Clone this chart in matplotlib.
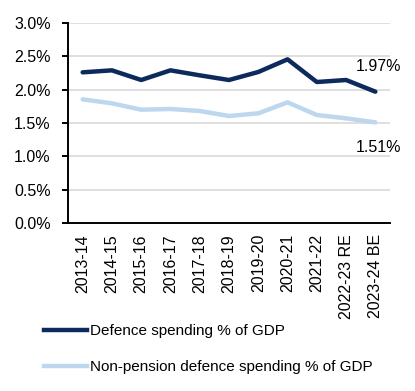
import matplotlib
matplotlib.use("Agg")
import matplotlib.pyplot as plt
from matplotlib.lines import Line2D

plt.rcParams['font.family'] = ['Liberation Sans', 'DejaVu Sans']

categories = ["2013-14", "2014-15", "2015-16", "2016-17", "2017-18", "2018-19",
              "2019-20", "2020-21", "2021-22", "2022-23 RE", "2023-24 BE"]
defence = [2.26, 2.29, 2.145, 2.29, 2.215, 2.145, 2.265, 2.455, 2.115, 2.145, 1.97]
non_pension = [1.855, 1.795, 1.70, 1.71, 1.68, 1.605, 1.645, 1.81, 1.62, 1.57, 1.51]
yticks = [0.0, 0.5, 1.0, 1.5, 2.0, 2.5, 3.0]

dark = "#0C2A5C"
light = "#BDD7EE"

fig = plt.figure(figsize=(4.15, 3.91), dpi=100)
ax = fig.add_axes([68/415, 1-223/391, (390-68)/415, 200/391])
x = list(range(len(categories)))
ax.plot(x, non_pension, color=light, lw=3.2, solid_capstyle='round', zorder=3)
ax.plot(x, defence, color=dark, lw=3.2, solid_capstyle='round', zorder=4)
ax.set_xlim(-0.5, len(categories)-0.5)
ax.set_ylim(0, 3.0)
ax.set_yticks(yticks)
ax.set_yticklabels([f"{v:.1f}%" for v in yticks], fontsize=11.5)
ax.set_xticks(x)
ax.set_xticklabels(categories, rotation=90, fontsize=11.5)
ax.tick_params(axis='x', length=0, pad=8)
ax.tick_params(axis='y', length=4.5, width=1.4, direction='out', pad=8)
ax.grid(axis='y', color='#D9D9D9', lw=1.2)
ax.set_axisbelow(True)
for s in ['top', 'right']:
    ax.spines[s].set_visible(False)
for s in ['left', 'bottom']:
    ax.spines[s].set_linewidth(1.4)
    ax.spines[s].set_color('black')

ax.annotate(f"{defence[-1]:.2f}%", xy=(x[-1], defence[-1]), xytext=(-14, 13),
            textcoords='offset points', fontsize=11.5, ha='left', va='bottom')
ax.annotate(f"{non_pension[-1]:.2f}%", xy=(x[-1], non_pension[-1]), xytext=(-14, -13),
            textcoords='offset points', fontsize=11.5, ha='left', va='top')

handles = [Line2D([], [], color=dark, lw=3.2), Line2D([], [], color=light, lw=3.2)]
fig.legend(handles, ["Defence spending % of GDP", "Non-pension defence spending % of GDP"],
           loc='upper left', bbox_to_anchor=(44/415, 1-324/391), frameon=False,
           fontsize=11, handlelength=2.8, handletextpad=0.2, labelspacing=1.45,
           borderaxespad=0, borderpad=0)
fig.savefig("out.png", dpi=100)
